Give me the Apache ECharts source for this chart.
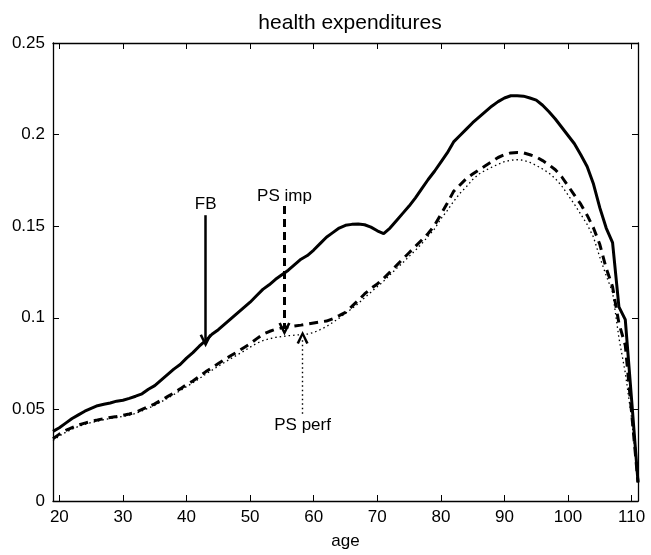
<!DOCTYPE html>
<html>
<head>
<meta charset="utf-8">
<script src="https://cdn.jsdelivr.net/npm/echarts@6/dist/echarts.min.js"></script>
<style>html,body{margin:0;padding:0;background:#fff}#c{width:651px;height:555px}</style>
</head>
<body>
<div id="c"></div>
<script>
const ages = [19,20,21,22,23,24,25,26,27,28,29,30,31,32,33,34,35,36,37,38,39,40,41,42,43,44,45,46,47,48,49,50,51,52,53,54,55,56,57,58,59,60,61,62,63,64,65,66,67,68,69,70,71,72,73,74,75,76,77,78,79,80,81,82,83,84,85,86,87,88,89,90,91,92,93,94,95,96,97,98,99,100,101,102,103,104,105,106,107,108,109,110,111];
const fb = [
.0380,.0400,.0425,.0450,.0470,.0490,.0505,.0520,.0528,.0535,
.0545,.0550,.0560,.0572,.0585,.0610,.0630,.0660,.0690,.0720,
.0745,.0780,.0810,.0845,.0875,.0910,.0935,.0965,.0995,.1025,
.1055,.1085,.1120,.1155,.1180,.1210,.1235,.1260,.1290,.1320,
.1340,.1370,.1405,.1440,.1465,.1490,.1505,.1510,.1512,.1508,
.1495,.1475,.1460,.1490,.1530,.1570,.1610,.1655,.1705,.1755,
.1800,.1850,.1900,.1960,.1995,.2030,.2065,.2095,.2125,.2155,
.2180,.2200,.2212,.2212,.2210,.2200,.2188,.2160,.2125,.2085,
.2040,.1995,.1950,.1890,.1826,.1730,.1600,.1490,.1410,.1060,
.0990,.0550,.0105];
const psImp = [
.0340,.0365,.0385,.0400,.0415,.0425,.0435,.0442,.0450,.0456,
.0461,.0468,.0475,.0485,.0500,.0515,.0530,.0550,.0570,.0590,
.0612,.0635,.0655,.0680,.0705,.0728,.0750,.0772,.0794,.0815,
.0837,.0858,.0885,.0910,.0925,.0937,.0945,.0950,.0955,.0960,
.0966,.0972,.0978,.0982,.0995,.1012,.1030,.1062,.1095,.1130,
.1160,.1185,.1215,.1250,.1285,.1320,.1355,.1390,.1425,.1460,
.1505,.1565,.1625,.1690,.1725,.1760,.1785,.1808,.1830,.1852,
.1875,.1890,.1900,.1902,.1900,.1890,.1878,.1858,.1835,.1808,
.1770,.1720,.1670,.1620,.1560,.1490,.1400,.1270,.1170,.0970,
.0850,.0480,.0100];
const psPerf = [
.0330,.0355,.0375,.0392,.0407,.0418,.0428,.0436,.0444,.0450,
.0455,.0462,.0469,.0478,.0492,.0507,.0522,.0541,.0561,.0581,
.0602,.0624,.0645,.0668,.0692,.0714,.0736,.0757,.0778,.0798,
.0818,.0840,.0860,.0875,.0885,.0893,.0898,.0902,.0905,.0908,
.0911,.0920,.0935,.0952,.0975,.0998,.1025,.1050,.1078,.1110,
.1140,.1170,.1200,.1235,.1268,.1300,.1335,.1368,.1405,.1445,
.1485,.1540,.1585,.1635,.1680,.1715,.1755,.1785,.1805,.1822,
.1838,.1852,.1860,.1863,.1860,.1848,.1832,.1812,.1790,.1760,
.1720,.1670,.1620,.1565,.1510,.1440,.1330,.1230,.1140,.0890,
.0700,.0450,.0100];
const xTicks = [20,30,40,50,60,70,80,90,100,110];
const yTicks = [0,0.05,0.1,0.15,0.2,0.25];
const annotTexts = ['FB','PS imp','PS perf'];
const annotTextPos = [[43,0.1618],[55.4,0.1663],[58.25,0.0411]];
const arrowFrom = [[43,0.156],[55.4,0.161],[58.25,0.0476]];
const arrowTo = [[43,0.0875],[55.4,0.0939],[58.25,0.0893]];

const FONT = 'Liberation Sans, Arial, Helvetica, sans-serif';
const chart = echarts.init(document.getElementById('c'), null, {renderer:'canvas'});
const pair = (a) => ages.map((x,i)=>[x,a[i]]);
const arrowHead = 'path://M6,0 L12,12 L9.6,13 L6,5.2 L2.4,13 L0,12 Z';
function arrowSeries(i, type, width) {
  return {
    type:'line', data:[], silent:true,
    markLine:{
      silent:true, animation:false,
      symbol:['none', arrowHead], symbolSize:[12,13],
      label:{show:false},
      lineStyle:{color:'#000', width:width, type:type, opacity:1},
      data:[[{coord:arrowFrom[i]},{coord:arrowTo[i]}]]
    }
  };
}
chart.setOption({
  animation:false,
  backgroundColor:'#fff',
  title:{text:'health expenditures', left:345, textAlign:'center', top:8,
    textStyle:{fontFamily:FONT, fontSize:21, fontWeight:'normal', color:'#000'}},
  grid:{left:53, right:13, top:43, bottom:52},
  xAxis:[{
    type:'value', min:19, max:111, position:'bottom',
    name:'age', nameLocation:'middle', nameGap:32,
    nameTextStyle:{fontFamily:FONT, fontSize:17, color:'#000'},
    axisLine:{show:true, onZero:false, lineStyle:{color:'#000', width:1.3}},
    axisTick:{show:true, inside:true, length:6, customValues:xTicks, lineStyle:{color:'#000'}},
    axisLabel:{show:true, customValues:xTicks, margin:8, fontFamily:FONT, fontSize:17, color:'#000'},
    splitLine:{show:false}
  },{
    type:'value', min:19, max:111, position:'top',
    axisLine:{show:true, onZero:false, lineStyle:{color:'#000', width:1.3}},
    axisTick:{show:true, inside:true, length:6, customValues:xTicks, lineStyle:{color:'#000'}},
    axisLabel:{show:false},
    splitLine:{show:false}
  }],
  yAxis:[{
    type:'value', min:0, max:0.25, interval:0.05, position:'left',
    axisLine:{show:true, onZero:false, lineStyle:{color:'#000', width:1.3}},
    axisTick:{show:true, inside:true, length:6, lineStyle:{color:'#000'}},
    axisLabel:{show:true, margin:8, fontFamily:FONT, fontSize:17, color:'#000'},
    splitLine:{show:false}
  },{
    type:'value', min:0, max:0.25, interval:0.05, position:'right',
    axisLine:{show:true, onZero:false, lineStyle:{color:'#000', width:1.3}},
    axisTick:{show:true, inside:true, length:6, lineStyle:{color:'#000'}},
    axisLabel:{show:false},
    splitLine:{show:false}
  }],
  series:[
    {name:'FB', type:'line', data:pair(fb), showSymbol:false, symbol:'none',
      lineStyle:{color:'#000', width:3}},
    {name:'PS imp', type:'line', data:pair(psImp), showSymbol:false, symbol:'none',
      lineStyle:{color:'#000', width:3, type:[9,6]}},
    {name:'PS perf', type:'line', data:pair(psPerf), showSymbol:false, symbol:'none',
      lineStyle:{color:'#000', width:1.3, type:[1.5,3]}},
    arrowSeries(0, 'solid', 2.5),
    arrowSeries(1, [8,5], 3),
    arrowSeries(2, [1.5,3], 1.4),
    {type:'scatter', symbolSize:0, silent:true,
      data:annotTexts.map((t,i)=>({name:t, value:annotTextPos[i]})),
      label:{show:true, position:'inside', formatter:(p)=>p.name,
        fontFamily:FONT, fontSize:17, color:'#000', opacity:1, textBorderWidth:0}}
  ]
});
</script>
</body>
</html>
